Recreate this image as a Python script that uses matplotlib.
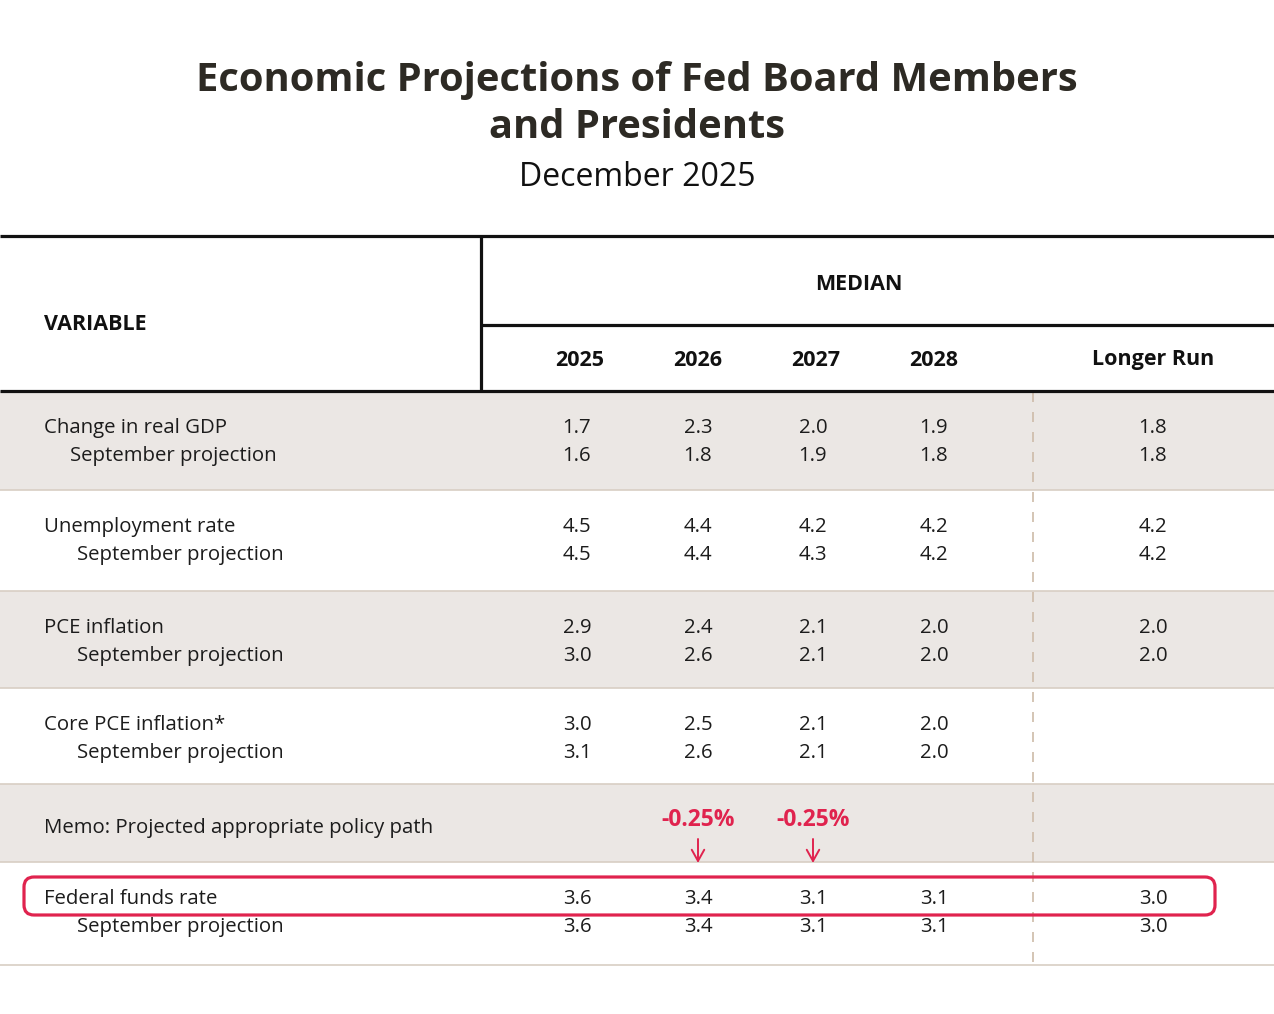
import matplotlib
matplotlib.use("Agg")
import matplotlib.pyplot as plt
from matplotlib.patches import Rectangle, FancyBboxPatch

plt.rcParams['font.family'] = ['Open Sans', 'DejaVu Sans']

columns = ["2025", "2026", "2027", "2028", "Longer Run"]
variables = ["Change in real GDP", "Unemployment rate", "PCE inflation",
             "Core PCE inflation*", "Federal funds rate"]
median = [
    ["1.7", "2.3", "2.0", "1.9", "1.8"],
    ["4.5", "4.4", "4.2", "4.2", "4.2"],
    ["2.9", "2.4", "2.1", "2.0", "2.0"],
    ["3.0", "2.5", "2.1", "2.0", ""],
    ["3.6", "3.4", "3.1", "3.1", "3.0"],
]
september = [
    ["1.6", "1.8", "1.9", "1.8", "1.8"],
    ["4.5", "4.4", "4.3", "4.2", "4.2"],
    ["3.0", "2.6", "2.1", "2.0", "2.0"],
    ["3.1", "2.6", "2.1", "2.0", ""],
    ["3.6", "3.4", "3.1", "3.1", "3.0"],
]
memo_label = "Memo: Projected appropriate policy path"
rate_cuts = {"2026": "-0.25%", "2027": "-0.25%"}

# layout (pixel coordinates, y downwards)
W, H = 1274, 1014
head_x = [580, 698, 816, 934, 1153]
col_x = [577, 698, 813, 934, 1153]
edges = [391, 490, 591, 688, 784, 862, 965]
grey = '#EBE7E4'
sep = '#D8CEC4'
red = '#E0234E'
ink = '#1C1C1C'
fs = 14.7
hfs = 15.5

fig = plt.figure(figsize=(W / 100, H / 100), dpi=100)
ax = fig.add_axes([0, 0, 1, 1])
ax.set_xlim(0, W)
ax.set_ylim(H, 0)
ax.axis('off')

# titles
ax.text(637, 81, "Economic Projections of Fed Board Members", ha='center', va='center',
        fontsize=28.7, fontweight='bold', color='#2D2A24')
ax.text(637, 127, "and Presidents", ha='center', va='center',
        fontsize=28.7, fontweight='bold', color='#2D2A24')
ax.text(637, 178, "December 2025", ha='center', va='center', fontsize=23, color='#111111')

# header lines
ax.plot([0, W], [236, 236], color='#111111', lw=2.3, solid_capstyle='butt')
ax.plot([481, 481], [236, 391], color='#111111', lw=2.3, solid_capstyle='butt')
ax.plot([481, W], [325, 325], color='#111111', lw=2.3, solid_capstyle='butt')
ax.text(44, 324, "VARIABLE", ha='left', va='center', fontsize=hfs, fontweight='bold', color='#111111')
ax.text(859, 285, "MEDIAN", ha='center', va='center', fontsize=hfs, fontweight='bold', color='#111111')
for x, c in zip(head_x, columns):
    ax.text(x, 360, c, ha='center', va='center', fontsize=hfs, fontweight='bold', color='#111111')

# row bands: 4 variables, memo, fed funds
band_rows = [0, 1, 2, 3, None, 4]
for b in range(len(band_rows)):
    top, bot = edges[b], edges[b + 1]
    if b % 2 == 0:
        ax.add_patch(Rectangle((0, top), W, bot - top, color=grey, lw=0, zorder=0))
    ax.plot([0, W], [bot, bot], color=sep, lw=1.2, zorder=1)
    i = band_rows[b]
    if i is None:
        ax.text(44, (top + bot) / 2 + 5, memo_label, ha='left', va='center', fontsize=fs, color=ink)
        for c, txt in rate_cuts.items():
            x = col_x[columns.index(c)]
            ax.text(x, 820, txt, ha='center', va='center', fontsize=16.5, fontweight='bold', color=red)
            ax.annotate("", xy=(x, 863), xytext=(x, 839),
                        arrowprops=dict(arrowstyle='->,head_length=0.45,head_width=0.25',
                                        color=red, lw=1.4,
                                        mutation_scale=18, shrinkA=0, shrinkB=0))
        continue
    y1 = top + 37
    y2 = y1 + 28
    indent = 70 if i == 0 else 77
    ax.text(44, y1, variables[i], ha='left', va='center', fontsize=fs, color=ink)
    ax.text(indent, y2, "September projection", ha='left', va='center', fontsize=fs, color=ink)
    for x, v1, v2 in zip(col_x, median[i], september[i]):
        ax.text(x, y1, v1, ha='center', va='center', fontsize=fs, color=ink)
        ax.text(x, y2, v2, ha='center', va='center', fontsize=fs, color=ink)

ax.plot([0, W], [391, 391], color='#111111', lw=2.3, solid_capstyle='butt')

# dashed divider before Longer Run
ax.plot([1033, 1033], [392, 965], color='#CDBBA8', lw=1.2, ls=(0, (6, 6)), zorder=1)

# highlight box around federal funds rate
ax.add_patch(FancyBboxPatch((24, 877), 1191, 38, boxstyle="round,pad=0,rounding_size=10",
                            fill=False, edgecolor=red, lw=2.3, zorder=3))

fig.savefig("out.png", dpi=100, facecolor='white')
